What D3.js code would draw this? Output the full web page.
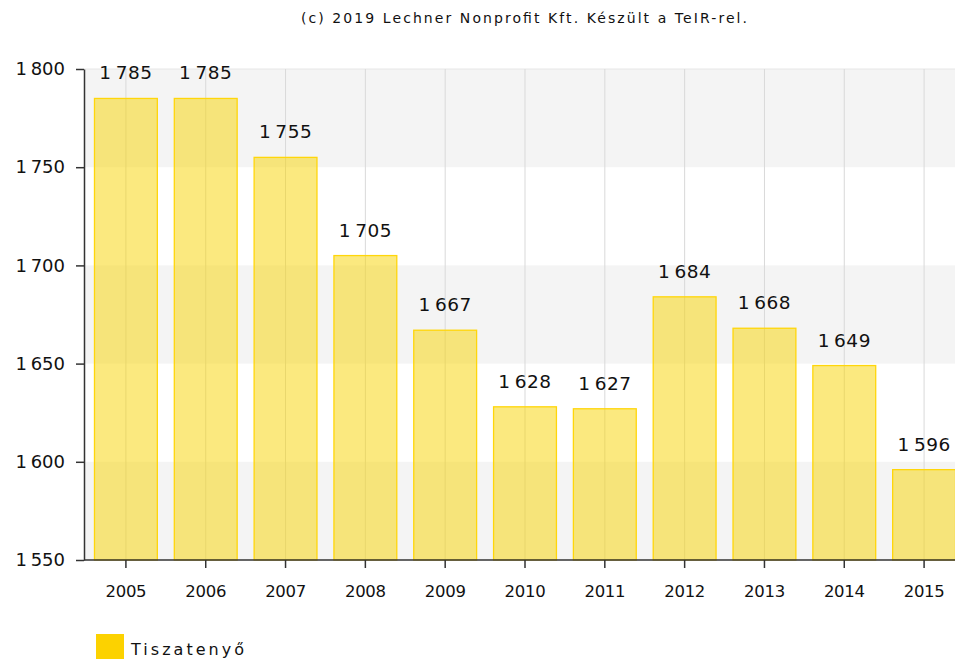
<!DOCTYPE html>
<html><head><meta charset="utf-8">
<script src="https://cdn.jsdelivr.net/npm/d3@7"></script>
<style>body{margin:0;background:#fff;} text{font-family:"DejaVu Sans",Verdana,sans-serif;}</style>
</head><body>
<svg id="c" width="955" height="659"></svg>
<script>
const categories = ["2005","2006","2007","2008","2009","2010","2011","2012","2013","2014","2015"];
const values = [1785,1785,1755,1705,1667,1628,1627,1684,1668,1649,1596];
const yTicks = [1550,1600,1650,1700,1750,1800];
const seriesName = "Tiszatenyő";
const title = "(c) 2019 Lechner Nonprofit Kft. Készült a TeIR-rel.";

(function(){
const svg = d3.select("#c");
const mLeft = 84, mTop = 69, mBottom = 560, mRight = 964;
const fmt = v => d3.format(",")(v).replace(/,/g, "\u2009");
const x = d3.scaleBand().domain(categories).range([mLeft + 2, mRight]).paddingInner(0.2).paddingOuter(0.1);
const y = d3.scaleLinear().domain([1550, 1800]).range([mBottom, mTop]);

for (let i = 0; i < yTicks.length - 1; i++) {
  if (i % 2 === 0) {
    svg.append("rect").attr("x", mLeft).attr("y", y(yTicks[i+1])).attr("width", 955 - mLeft)
      .attr("height", y(yTicks[i]) - y(yTicks[i+1])).attr("fill", "#f4f4f4");
  }
}
svg.append("line").attr("x1", mLeft).attr("x2", 955).attr("y1", y(1800)).attr("y2", y(1800)).attr("stroke", "#e6e6e6");
svg.selectAll(".vg").data(categories).enter().append("line")
  .attr("x1", d => x(d) + x.bandwidth()/2).attr("x2", d => x(d) + x.bandwidth()/2)
  .attr("y1", y(1800)).attr("y2", mBottom).attr("stroke", "#d9d9d9").attr("stroke-width", 1);

svg.selectAll(".bar").data(values).enter().append("rect")
  .attr("x", (d, i) => x(categories[i]) + 0.5).attr("y", d => y(d))
  .attr("width", x.bandwidth() - 1).attr("height", d => mBottom - y(d))
  .attr("fill", "rgba(247,212,10,0.52)").attr("stroke", "#ffd60a").attr("stroke-width", 1.3);

svg.selectAll(".lbl").data(values).enter().append("text")
  .attr("x", (d, i) => x(categories[i]) + x.bandwidth()/2).attr("y", d => y(d) - 19)
  .attr("text-anchor", "middle").attr("font-size", 18.5).attr("letter-spacing", 0.5).attr("fill", "#111")
  .text(d => fmt(d));

const yAxis = d3.axisLeft(y).tickValues(yTicks).tickFormat(fmt).tickSize(8).tickSizeOuter(0);
const gy = svg.append("g").attr("transform", `translate(${mLeft},0)`).call(yAxis);
gy.select(".domain").attr("stroke", "#333").attr("stroke-width", 1.5);
gy.selectAll(".tick line").attr("stroke", "#333").attr("stroke-width", 1.5);
gy.selectAll(".tick text").attr("font-size", 18).attr("fill", "#111").attr("x", -19)
  .style("font-family", "'DejaVu Sans', Verdana, sans-serif");

const xAxis = d3.axisBottom(x).tickSize(8).tickSizeOuter(0);
const gx = svg.append("g").attr("transform", `translate(0,${mBottom})`).call(xAxis);
gx.select(".domain").attr("stroke", "#333").attr("stroke-width", 1.5).attr("d", `M${mLeft},0H955`);
gx.selectAll(".tick line").attr("stroke", "#333").attr("stroke-width", 1.5);
gx.selectAll(".tick text").attr("font-size", 16.5).attr("fill", "#111").attr("y", 25)
  .style("font-family", "'DejaVu Sans', Verdana, sans-serif").attr("letter-spacing", -0.3);

svg.append("text").attr("x", 524).attr("y", 23).attr("text-anchor", "middle")
  .attr("font-size", 14).attr("fill", "#111")
  .attr("textLength", 446).attr("lengthAdjust", "spacing").text(title);

svg.append("rect").attr("x", 96).attr("y", 634).attr("width", 28).attr("height", 25).attr("fill", "#fcd200");
svg.append("text").attr("x", 131).attr("y", 655).attr("font-size", 16).attr("fill", "#111")
  .attr("textLength", 113).attr("lengthAdjust", "spacing").text(seriesName);
})();
</script>
</body></html>
